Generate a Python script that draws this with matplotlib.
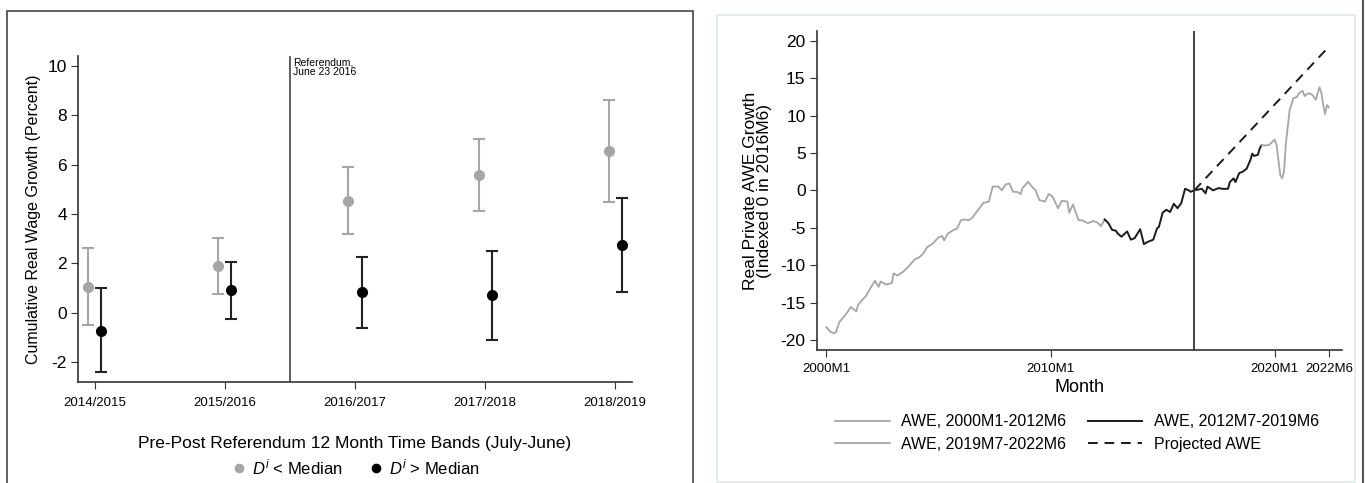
import matplotlib
matplotlib.use("Agg")
import matplotlib.pyplot as plt
from matplotlib.patches import Rectangle
from matplotlib.lines import Line2D

plt.rcParams['font.family'] = ['Liberation Sans', 'DejaVu Sans']
plt.rcParams['axes.unicode_minus'] = False
plt.rcParams['mathtext.fontset'] = 'custom'
plt.rcParams['mathtext.rm'] = 'Liberation Sans'
plt.rcParams['mathtext.it'] = 'Liberation Sans:italic'
narrow = ['Liberation Sans Narrow', 'Liberation Sans', 'DejaVu Sans']

# left panel data
bands = ['2014/2015', '2015/2016', '2016/2017', '2017/2018', '2018/2019']
low_mid = [1.06, 1.90, 4.54, 5.58, 6.56]
low_hi = [2.62, 3.05, 5.91, 7.03, 8.60]
low_lo = [-0.50, 0.75, 3.21, 4.12, 4.50]
high_mid = [-0.72, 0.91, 0.83, 0.71, 2.75]
high_hi = [0.99, 2.07, 2.28, 2.52, 4.65]
high_lo = [-2.40, -0.23, -0.61, -1.08, 0.83]

# right panel data (months since 2000M1)
m_early = [0, 2, 4, 5, 7, 9, 11, 13, 16, 17, 19, 21, 24, 26, 28, 29, 32, 35, 36, 38,
           41, 44, 47, 50, 52, 54, 57, 60, 62, 63, 65, 68, 70, 72, 74, 76, 78, 81, 84, 87,
           89, 92, 94, 96, 98, 100, 102, 104, 105, 108, 110, 112, 114, 117, 119, 121, 124, 126, 129, 130,
           132, 135, 137, 140, 143, 145, 147, 149]
awe_early = [-18.3, -18.9, -19.1, -19.0, -17.6, -17.0, -16.4, -15.6, -16.2, -15.3,
             -14.7, -14.2, -12.9, -12.1, -12.9, -12.2, -12.6, -12.4, -11.1, -11.4,
             -10.9, -10.2, -9.3, -8.9, -8.4, -7.6, -7.1, -6.3, -6.1, -6.7,
             -5.8, -5.3, -5.1, -4.0, -3.9, -4.0, -3.7, -2.7, -1.7, -1.5,
             0.5, 0.5, 0.0, 0.8, 0.9, -0.2, -0.2, -0.5, 0.3, 1.15,
             0.5, 0.0, -1.3, -1.5, -0.5, -0.8, -2.4, -1.4, -1.5, -3.0,
             -1.9, -4.0, -4.0, -4.4, -4.1, -4.3, -4.8, -3.9]
m_mid = [149, 151, 153, 155, 156, 158, 161, 163, 165, 168, 170, 172, 175, 177, 178, 180, 182, 184, 186, 188,
         190, 192, 194, 195, 197, 199, 201, 203, 204, 207, 210, 212, 215, 216, 218, 219, 221, 223, 225, 227,
         228, 229, 231, 232, 233]
awe_mid = [-3.9, -4.4, -5.3, -5.4, -5.8, -6.2, -5.5, -6.6, -6.4, -5.2,
           -7.2, -6.9, -6.6, -5.1, -4.9, -3.0, -2.6, -2.9, -1.8, -2.4,
           -1.7, 0.2, 0.0, -0.2, 0.0, 0.1, 0.2, -0.4, 0.5, 0.0,
           0.3, 0.2, 0.2, 1.1, 1.6, 1.1, 2.3, 2.5, 2.9, 4.05,
           4.9, 4.6, 4.75, 5.6, 6.05]
m_late = [233, 235, 237, 240, 241, 242, 243, 244, 245, 246, 247, 248, 250, 252, 253, 255, 256, 258, 260, 262,
          263, 264, 265, 266, 267, 268, 269]
awe_late = [6.05, 6.0, 6.05, 6.8, 6.05, 4.05, 2.05, 1.6, 2.5, 6.3,
            8.5, 10.7, 12.3, 12.5, 13.0, 13.3, 12.6, 13.0, 12.8, 12.1,
            13.0, 13.8, 13.0, 11.4, 10.2, 11.4, 11.1]
m_proj = [197, 269]
awe_proj = [0.0, 19.2]
month_ticks = [0, 120, 240, 269]
month_labels = ['2000M1', '2010M1', '2020M1', '2022M6']

GRAY = '#a6a6a6'
DARK = '#1a1a1a'
W, H = 1365, 483

fig = plt.figure(figsize=(13.65, 4.83), dpi=100)

# panel frames
fig.add_artist(Rectangle((7 / W, -0.01), (693 - 7) / W, (H - 11) / H + 0.01, transform=fig.transFigure,
                         fill=False, edgecolor='#555555', linewidth=1.3))
fig.add_artist(Rectangle((717 / W, 1 / H), (1355 - 717) / W, (H - 16) / H, transform=fig.transFigure,
                         fill=False, edgecolor='#e3eaea', linewidth=1.3))
fig.add_artist(Line2D([1363 / W, 1363 / W], [0, 1], transform=fig.transFigure, color='#555555', linewidth=1.5))

# ---- left panel ----
ax = fig.add_axes([78 / W, 1 - 382 / H, (632 - 78) / W, (382 - 56) / H])
xs = list(range(1, len(bands) + 1))
xl = [x - 0.05 for x in xs]
xr = [x + 0.05 for x in xs]
ax.errorbar(xl, low_mid, yerr=[[m - l for m, l in zip(low_mid, low_lo)], [h - m for m, h in zip(low_mid, low_hi)]],
            fmt='none', ecolor=GRAY, elinewidth=1.5, capsize=4, capthick=1.5)
ax.errorbar(xr, high_mid, yerr=[[m - l for m, l in zip(high_mid, high_lo)], [h - m for m, h in zip(high_mid, high_hi)]],
            fmt='none', ecolor='#222222', elinewidth=1.5, capsize=4, capthick=1.5)
p1, = ax.plot(xl, low_mid, 'o', color=GRAY, markersize=7, linestyle='none', label=r'$D^i$ < Median')
p2, = ax.plot(xr, high_mid, 'o', color='#000000', markersize=7, linestyle='none', label=r'$D^i$ > Median')
ax.axvline(2.5, color='#444444', linewidth=1.2)
ax.text(2.525, 10.35, 'Referendum,\nJune 23 2016', fontsize=7.5, va='top', ha='left', family=narrow,
        linespacing=1.0)
ax.set_xlim(0.87, 5.13)
ax.set_ylim(-2.8, 10.4)
ax.set_yticks([-2, 0, 2, 4, 6, 8, 10])
ax.set_xticks(xs)
ax.set_xticklabels(bands, family=narrow, fontsize=9.5)
ax.tick_params(axis='y', labelsize=12.5, length=5, color='#333333', pad=3)
ax.tick_params(axis='x', length=5, color='#333333', pad=6)
for s in ['top', 'right']:
    ax.spines[s].set_visible(False)
for s in ['left', 'bottom']:
    ax.spines[s].set_color('#333333')
    ax.spines[s].set_linewidth(1.2)
ax.set_ylabel('Cumulative Real Wage Growth (Percent)', fontsize=11.5, labelpad=5)
ax.set_xlabel('Pre-Post Referendum 12 Month Time Bands (July-June)', fontsize=12.5, labelpad=19)
fig.legend(handles=[p1, p2], loc='center', bbox_to_anchor=(356 / W, 1 - 467 / H), ncol=2, frameon=False,
           fontsize=12, handlelength=0.8, handletextpad=0.4, columnspacing=1.6, markerscale=0.85)

# ---- right panel ----
bx = fig.add_axes([816.7 / W, 1 - 350 / H, (1342.3 - 816.7) / W, (350 - 31) / H])
l1, = bx.plot(m_early, awe_early, color=GRAY, linewidth=1.3, label='AWE, 2000M1-2012M6')
l2, = bx.plot(m_mid, awe_mid, color=DARK, linewidth=1.4, label='AWE, 2012M7-2019M6')
l3, = bx.plot(m_late, awe_late, color=GRAY, linewidth=1.3, label='AWE, 2019M7-2022M6')
l4, = bx.plot(m_proj, awe_proj, color=DARK, linewidth=1.4, linestyle=(0, (5, 3.5)), label='Projected AWE')
bx.axvline(197, color='#333333', linewidth=1.3)
bx.set_xlim(-5.2, 276.2)
bx.set_ylim(-21.35, 21.3)
bx.set_yticks([-20, -15, -10, -5, 0, 5, 10, 15, 20])
bx.set_xticks(month_ticks)
bx.set_xticklabels(month_labels, family=narrow, fontsize=9.5)
bx.tick_params(axis='y', labelsize=12.5, length=5, color='#333333', pad=3)
bx.tick_params(axis='x', length=5, color='#333333', pad=4)
for s in ['top', 'right']:
    bx.spines[s].set_visible(False)
for s in ['left', 'bottom']:
    bx.spines[s].set_color('#333333')
    bx.spines[s].set_linewidth(1.2)
bx.set_ylabel('Real Private AWE Growth\n(Indexed 0 in 2016M6)', fontsize=12.5, labelpad=6, linespacing=0.95)
bx.set_xlabel('Month', fontsize=13, labelpad=3)
fig.legend(handles=[l1, l3, l2, l4], loc='center', bbox_to_anchor=(1077 / W, 1 - 433 / H), ncol=2,
           frameon=False, fontsize=11.5, handlelength=3.4, handletextpad=0.7, columnspacing=1.4,
           labelspacing=0.45)

fig.savefig('out.png', dpi=100, facecolor='white')
